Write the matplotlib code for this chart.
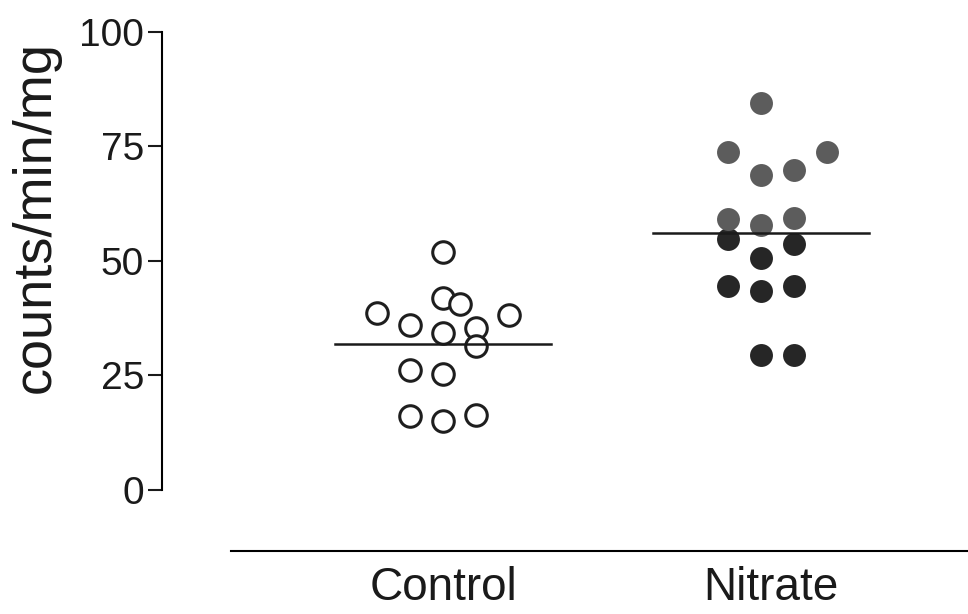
import numpy as np
import matplotlib.pyplot as plt

plt.rcParams['font.family'] = ['Liberation Sans', 'DejaVu Sans']

groups = ['Control', 'Nitrate']

# counts/min/mg per sample, with the column each dot sits in
control = [52.0, 38.6, 36.0, 41.9, 40.6, 34.3, 35.4, 31.4, 38.2, 26.2, 25.3, 16.2, 15.1, 16.4]
control_col = [0, -2, -1, 0, 0.5, 0, 1, 1, 2, -1, 0, -1, 0, 1]

nitrate_hi = [84.6, 73.7, 73.9, 68.8, 69.9, 59.1, 57.8, 59.3]
nitrate_hi_col = [0, -1, 2, 0, 1, -1, 0, 1]
nitrate_lo = [54.7, 50.7, 53.7, 44.6, 43.5, 44.6, 29.5, 29.5]
nitrate_lo_col = [-1, 0, 1, -1, 0, 1, 0, 1]

yticks = [0, 25, 50, 75, 100]

step = 0.104
half = 0.34

fig = plt.figure(figsize=(9.68, 6.14), dpi=100)
ax = fig.add_axes([0.1674, 0.2020, 0.8326, 0.7459])

ax.plot(0 + np.array(control_col) * step, control, 'o', ms=15.5, mfc='white',
        mec='#1e1e1e', mew=2.2, zorder=2, clip_on=False)
ax.plot(1 + np.array(nitrate_lo_col) * step, nitrate_lo, 'o', ms=16.5, mfc='#262626',
        mec='none', zorder=2, clip_on=False)
ax.plot(1 + np.array(nitrate_hi_col) * step, nitrate_hi, 'o', ms=16.5, mfc='#5c5c5c',
        mec='none', zorder=2.5, clip_on=False)

# group means
nitrate_all = nitrate_hi + nitrate_lo
for x, vals in [(0, control), (1, nitrate_all)]:
    m = np.mean(vals)
    ax.plot([x - half, x + half], [m, m], color='#1a1a1a', lw=1.8, zorder=3)

ax.set_xlim(-0.8836, 1.651)
ax.set_ylim(0, 100)

ax.spines['top'].set_visible(False)
ax.spines['right'].set_visible(False)
ax.spines['left'].set_linewidth(1.5)
ax.spines['left'].set_bounds(0, 100)
ax.spines['bottom'].set_position(('outward', 44))
ax.spines['bottom'].set_bounds(-0.667, 1.651)
ax.spines['bottom'].set_linewidth(1.5)

ax.set_yticks(yticks)
ax.set_yticklabels([str(t) for t in yticks])
ax.tick_params(axis='y', direction='out', length=10, width=1.5, pad=3,
               labelsize=28, colors='#1a1a1a')
ax.set_xticks([0, 1.03])
ax.set_xticklabels(groups)
ax.tick_params(axis='x', length=0, pad=11, labelsize=33, colors='#1a1a1a')

ax.set_ylabel('counts/min/mg', fontsize=39, color='#1a1a1a')
ax.yaxis.set_label_coords(-0.126, 0.595)

plt.savefig('out.png', dpi=100)
plt.close()
